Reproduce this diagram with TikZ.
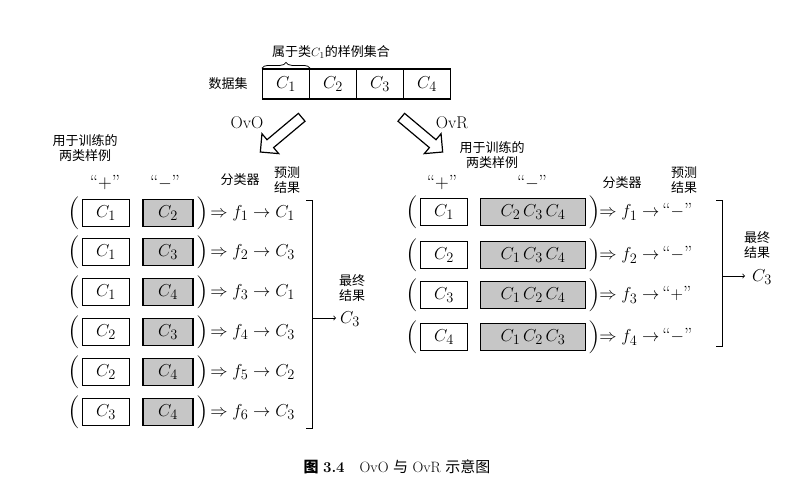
\documentclass[tikz,border=0pt]{standalone}
\usepackage{fontspec}
\newfontfamily\cjk{Noto Sans CJK SC}
\usetikzlibrary{shapes.arrows,decorations.pathreplacing}
\tikzset{
  wbox/.style={draw,very thick,minimum width=47pt,minimum height=27pt,inner sep=0pt,font=\fontsize{19}{21}\selectfont},
  gbox/.style={wbox,fill=gray!45},
  cn/.style={font=\cjk\fontsize{13}{15}\selectfont,align=center},
  mt/.style={font=\fontsize{19}{21}\selectfont,inner sep=0pt},
  paren/.style={font=\fontsize{33}{35}\selectfont,inner sep=0pt},
  bigarrow/.style={single arrow,draw,very thick,minimum height=54pt,minimum width=26pt,single arrow head extend=6pt,single arrow tip angle=90}
}
\begin{document}
\begin{tikzpicture}[x=1pt,y=-1pt,line width=0.8pt]
\useasboundingbox (0,0) rectangle (794,503);
% data set
\node[cn] (ds) at (228,84) {数据集};
\foreach \i/\x in {1/286,2/333,3/380,4/427}
  \node[wbox,minimum width=47pt,minimum height=30pt] (c\i) at (\x,84) {$C_\i$};
\draw[thick,decorate,decoration={brace,amplitude=6pt}] (c1.north west) -- (c1.north east) node[midway,above=6pt,cn,xshift=45pt] (lab) {属于类$C_1$的样例集合};
% arrows
\node[bigarrow,rotate=-140] (a1) at (283,133) {};
\node[bigarrow,rotate=-40] (a2) at (420,133) {};
\node[mt,font=\fontsize{17}{19}\selectfont] (ovo) at (247,123) {OvO};
\node[mt,font=\fontsize{17}{19}\selectfont] (ovr) at (452,123) {OvR};
% OvO
\node[cn] (l1) at (85,148) {用于训练的\\两类样例};
\node[mt] (lp) at (105,183) {``+''};
\node[mt] (lm) at (165,183) {``$-$''};
\node[cn] (lf) at (240,180) {分类器};
\node[cn] (lr) at (287,180) {预测\\结果};
\foreach \i/\a/\b/\r/\y in {1/1/2/1/213,2/1/3/3/252,3/1/4/1/292,4/2/3/3/332,5/2/4/2/372,6/3/4/3/412}{
  \node[paren] (lo\i) at (74,\y) {(};
  \node[wbox] (pa\i) at (106,\y) {$C_\a$};
  \node[gbox,minimum width=50pt] (pb\i) at (168,\y) {$C_\b$};
  \node[paren] (lc\i) at (202,\y) {)};
  \node[mt,anchor=west] (res\i) at (210,\y) {$\Rightarrow f_\i\rightarrow C_\r$};
}
\draw (306,200) -- (312,200) -- (312,428) -- (306,428);
\draw[->] (312,318) -- (336,318);
\node[cn] (lfin) at (352,288) {最终\\结果};
\node[mt] (lc) at (350,319) {$C_3$};
% OvR
\node[cn] (r1) at (492,155) {用于训练的\\两类样例};
\node[mt] (rp) at (442,183) {``+''};
\node[mt] (rm) at (532,183) {``$-$''};
\node[cn] (rf) at (622,183) {分类器};
\node[cn] (rr) at (684,180) {预测\\结果};
\foreach \i/\a/\g/\s/\y in {1/1/{C_2\,C_3\,C_4}/-/212,2/2/{C_1\,C_3\,C_4}/-/255,3/3/{C_1\,C_2\,C_4}/+/295,4/4/{C_1\,C_2\,C_3}/-/337}{
  \node[paren] (ro\i) at (412,\y) {(};
  \node[wbox] (qa\i) at (444,\y) {$C_\a$};
  \node[gbox,minimum width=105pt] (qb\i) at (533,\y) {$\g$};
  \node[paren] (rc\i) at (594,\y) {)};
  \node[mt,anchor=west] (rres\i) at (599,\y) {$\Rightarrow f_\i\rightarrow\,$``$\s$''};
}
\draw (716,200) -- (722,200) -- (722,346) -- (716,346);
\draw[->] (722,276) -- (745,276);
\node[cn] (rfin) at (757,245) {最终\\结果};
\node[mt] (rc) at (762,277) {$C_3$};
% caption
\node[font=\fontsize{15}{17}\selectfont] (cap) at (397,467) {{\cjk\bfseries 图} \textbf{3.4}\quad OvO {\cjk 与} OvR {\cjk 示意图}};
\end{tikzpicture}
\end{document}
